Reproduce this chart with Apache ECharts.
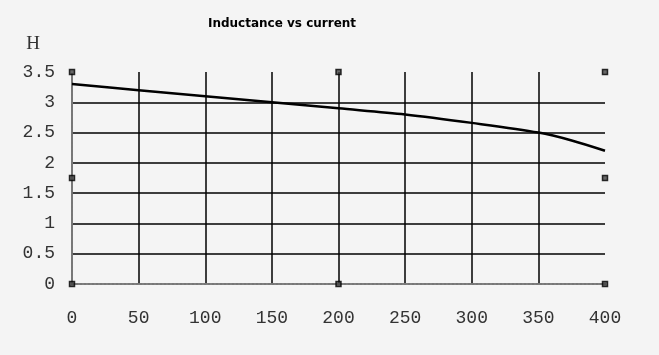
<!DOCTYPE html>
<html><head><meta charset="utf-8">
<script src="https://cdn.jsdelivr.net/npm/echarts@6/dist/echarts.min.js"></script>
<style>html,body{margin:0;padding:0;background:#f4f4f4}#c{width:659px;height:355px}</style>
</head><body><div id="c"></div>
<script>
const currents = [0, 50, 100, 150, 200, 250, 300, 350, 375, 400];
const inductance = [3.3, 3.2, 3.1, 3.0, 2.9, 2.8, 2.66, 2.5, 2.37, 2.2];
const handleX = [0, 200, 400, 0, 400, 0, 200, 400];
const handleY = [0, 0, 0, 1.75, 1.75, 3.5, 3.5, 3.5];
const titleText = 'Inductance vs current';
const yName = 'H';

const chart = echarts.init(document.getElementById('c'));
const labelFont = {fontFamily: 'Liberation Mono', fontSize: 18, color: '#333'};
chart.setOption({
  backgroundColor: '#f4f4f4',
  animation: false,
  title: {text: titleText, left: 277, top: 13, textAlign: 'center',
    textStyle: {fontFamily: 'DejaVu Sans', fontWeight: 'bold', fontSize: 12, color: '#000'}},
  grid: {left: 72, right: 54, top: 72, bottom: 71},
  xAxis: [{
    type: 'value', min: 0, max: 400, interval: 50,
    axisLine: {show: true, lineStyle: {color: '#777', type: 'dotted', width: 2}},
    axisTick: {show: false},
    axisLabel: Object.assign({margin: 25}, labelFont),
    splitLine: {show: true, showMinLine: false, showMaxLine: false, lineStyle: {color: '#000', width: 1.5}}
  }, {
    type: 'value', position: 'top', min: 0, max: 400, interval: 50,
    axisLine: {show: true, lineStyle: {color: '#777', type: 'dotted', width: 2}},
    axisTick: {show: false}, axisLabel: {show: false}, splitLine: {show: false}
  }],
  yAxis: [{
    type: 'value', min: 0, max: 3.5, interval: 0.5,
    name: yName, nameLocation: 'end', nameGap: 18,
    nameTextStyle: {fontFamily: 'Liberation Serif', fontSize: 19, color: '#333', align: 'right', padding: [0, 32, 0, 0]},
    axisLine: {show: true, lineStyle: {color: '#555', type: 'dotted', width: 2}},
    axisTick: {show: false},
    axisLabel: Object.assign({margin: 17}, labelFont),
    splitLine: {show: true, showMinLine: false, showMaxLine: false, lineStyle: {color: '#000', width: 1.5}}
  }, {
    type: 'value', position: 'right', min: 0, max: 3.5, interval: 0.5,
    axisLine: {show: true, lineStyle: {color: '#777', type: 'dotted', width: 2}},
    axisTick: {show: false}, axisLabel: {show: false}, splitLine: {show: false}
  }],
  series: [{
    type: 'line', smooth: 0.3, symbol: 'none',
    data: currents.map((c, i) => [c, inductance[i]]),
    lineStyle: {color: '#000', width: 2.5}
  }, {
    type: 'scatter', symbol: 'rect', symbolSize: 5,
    data: handleX.map((x, i) => [x, handleY[i]]),
    itemStyle: {color: '#444', borderColor: '#000', borderWidth: 1.5},
    z: 5
  }]
});
</script></body></html>
